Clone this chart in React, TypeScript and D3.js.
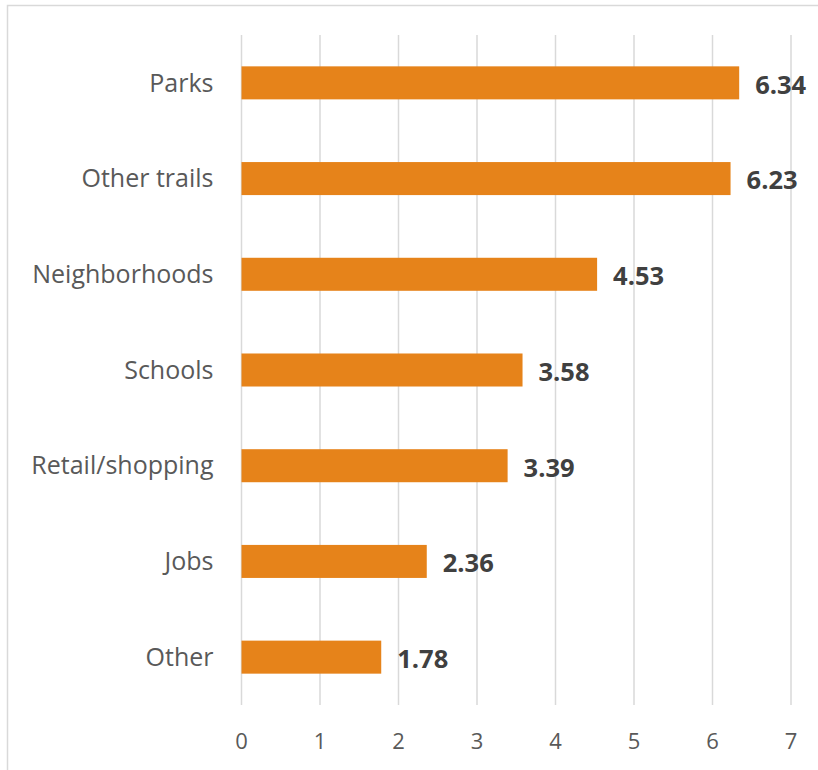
import React from "react";
import * as d3 from "d3";

const categories = ["Parks", "Other trails", "Neighborhoods", "Schools", "Retail/shopping", "Jobs", "Other"];
const values = [6.34, 6.23, 4.53, 3.58, 3.39, 2.36, 1.78];
const ticks = [0, 1, 2, 3, 4, 5, 6, 7];

export default function App() {
  const W = 818, H = 770;
  const x = d3.scaleLinear().domain([0, 7]).range([241.5, 791]);
  const y = d3.scaleBand().domain(categories).range([35, 705]).paddingInner(0.655).paddingOuter(0.3275);
  const font = "'Open Sans', 'Noto Sans', sans-serif";
  return (
    <svg width={W} height={H} style={{ position: "fixed", left: 0, top: 0, background: "#fff" }}>
      <rect x={7.5} y={5.5} width={900} height={900} fill="#fff" stroke="#D9D9D9" strokeWidth={1.5} />
      {ticks.map((t) => (
        <line key={t} x1={x(t)} x2={x(t)} y1={35} y2={705} stroke="#D9D9D9" strokeWidth={1.5} />
      ))}
      {categories.map((c, i) => (
        <g key={c}>
          <rect x={x(0)} y={y(c)!} width={x(values[i]) - x(0)} height={y.bandwidth()} fill="#E6831A" />
          <text x={x(0) - 28} y={y(c)! + y.bandwidth() / 2} dy="0.35em" textAnchor="end" fontFamily={font} fontSize={25} fill="#595959">{c}</text>
          <text x={x(values[i]) + 16} y={y(c)! + y.bandwidth() / 2 + 2} dy="0.35em" fontFamily={font} fontSize={25.5} fontWeight="bold" fill="#404040">{values[i].toFixed(2)}</text>
        </g>
      ))}
      {ticks.map((t) => (
        <text key={"l" + t} x={x(t)} y={741} dy="0.35em" textAnchor="middle" fontFamily={font} fontSize={22} fill="#595959">{t}</text>
      ))}
    </svg>
  );
}
